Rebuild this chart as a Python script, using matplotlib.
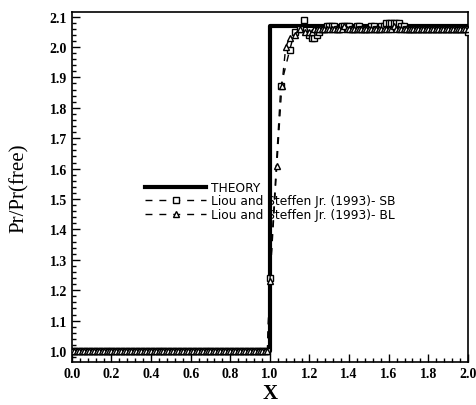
import matplotlib
matplotlib.use("Agg")
import matplotlib.pyplot as plt
from matplotlib.ticker import AutoMinorLocator, MultipleLocator

# theory: step at X = 1
x_theory = [0.0, 1.0, 1.0, 2.0]
y_theory = [1.0, 1.0, 2.07, 2.07]

# upstream grid points (both data sets sit on 1.0 here)
x_up = [0.0, 0.0125, 0.025, 0.0375, 0.05, 0.0625, 0.075, 0.0875,
        0.1, 0.1125, 0.125, 0.1375, 0.15, 0.1625, 0.175, 0.1875,
        0.2, 0.2125, 0.225, 0.2375, 0.25, 0.2625, 0.275, 0.2875,
        0.3, 0.3125, 0.325, 0.3375, 0.35, 0.3625, 0.375, 0.3875,
        0.4, 0.4125, 0.425, 0.4375, 0.45, 0.4625, 0.475, 0.4875,
        0.5, 0.5125, 0.525, 0.5375, 0.55, 0.5625, 0.575, 0.5875,
        0.6, 0.6125, 0.625, 0.6375, 0.65, 0.6625, 0.675, 0.6875,
        0.7, 0.7125, 0.725, 0.7375, 0.75, 0.7625, 0.775, 0.7875,
        0.8, 0.8125, 0.825, 0.8375, 0.85, 0.8625, 0.875, 0.8875,
        0.9, 0.9125, 0.925, 0.9375, 0.95, 0.9625, 0.975, 0.9875]
y_up = [1.0, 1.0, 1.0, 1.0, 1.0, 1.0, 1.0, 1.0, 1.0, 1.0,
        1.0, 1.0, 1.0, 1.0, 1.0, 1.0, 1.0, 1.0, 1.0, 1.0,
        1.0, 1.0, 1.0, 1.0, 1.0, 1.0, 1.0, 1.0, 1.0, 1.0,
        1.0, 1.0, 1.0, 1.0, 1.0, 1.0, 1.0, 1.0, 1.0, 1.0,
        1.0, 1.0, 1.0, 1.0, 1.0, 1.0, 1.0, 1.0, 1.0, 1.0,
        1.0, 1.0, 1.0, 1.0, 1.0, 1.0, 1.0, 1.0, 1.0, 1.0,
        1.0, 1.0, 1.0, 1.0, 1.0, 1.0, 1.0, 1.0, 1.0, 1.0,
        1.0, 1.0, 1.0, 1.0, 1.0, 1.0, 1.0, 1.0, 1.0, 1.0]

# Liou and Steffen Jr. (1993) - SB, across and behind the shock
x_sb = [1.0, 1.055, 1.1, 1.125, 1.15, 1.17, 1.2, 1.2125, 1.225, 1.2375,
        1.25, 1.2625, 1.275, 1.2875, 1.3, 1.3125, 1.325, 1.3375, 1.35, 1.3625,
        1.375, 1.3875, 1.4, 1.4125, 1.425, 1.4375, 1.45, 1.4625, 1.475, 1.4875,
        1.5, 1.5125, 1.525, 1.5375, 1.55, 1.5625, 1.575, 1.5875, 1.6, 1.6125,
        1.625, 1.6375, 1.65, 1.6625, 1.675, 1.6875, 1.7, 1.7125, 1.725, 1.7375,
        1.75, 1.7625, 1.775, 1.7875, 1.8, 1.8125, 1.825, 1.8375, 1.85, 1.8625,
        1.875, 1.8875, 1.9, 1.9125, 1.925, 1.9375, 1.95, 1.9625, 1.975, 1.9875, 2.0]
y_sb = [1.24, 1.87, 1.99, 2.05, 2.06, 2.09, 2.04, 2.03, 2.03, 2.04,
        2.05, 2.06, 2.06, 2.07, 2.07, 2.07, 2.07, 2.06, 2.06, 2.07,
        2.07, 2.07, 2.07, 2.06, 2.06, 2.07, 2.07, 2.06, 2.06, 2.06,
        2.06, 2.07, 2.07, 2.06, 2.06, 2.07, 2.07, 2.08, 2.08, 2.08,
        2.08, 2.08, 2.08, 2.07, 2.07, 2.06, 2.06, 2.06, 2.06, 2.06,
        2.06, 2.06, 2.06, 2.06, 2.06, 2.06, 2.06, 2.06, 2.06, 2.06,
        2.06, 2.06, 2.06, 2.06, 2.06, 2.06, 2.06, 2.06, 2.06, 2.06, 2.05]

# Liou and Steffen Jr. (1993) - BL, across and behind the shock
x_bl = [1.0, 1.035, 1.06, 1.08, 1.1, 1.125, 1.15, 1.175, 1.2, 1.2125,
        1.225, 1.2375, 1.25, 1.2625, 1.275, 1.2875, 1.3, 1.3125, 1.325, 1.3375,
        1.35, 1.3625, 1.375, 1.3875, 1.4, 1.4125, 1.425, 1.4375, 1.45, 1.4625,
        1.475, 1.4875, 1.5, 1.5125, 1.525, 1.5375, 1.55, 1.5625, 1.575, 1.5875,
        1.6, 1.6125, 1.625, 1.6375, 1.65, 1.6625, 1.675, 1.6875, 1.7, 1.7125,
        1.725, 1.7375, 1.75, 1.7625, 1.775, 1.7875, 1.8, 1.8125, 1.825, 1.8375,
        1.85, 1.8625, 1.875, 1.8875, 1.9, 1.9125, 1.925, 1.9375, 1.95, 1.9625,
        1.975, 1.9875, 2.0]
y_bl = [1.23, 1.61, 1.87, 2.0, 2.03, 2.04, 2.06, 2.05, 2.05, 2.05,
        2.06, 2.06, 2.06, 2.06, 2.06, 2.06, 2.06, 2.06, 2.06, 2.06,
        2.06, 2.06, 2.07, 2.06, 2.06, 2.06, 2.06, 2.06, 2.06, 2.06,
        2.06, 2.06, 2.06, 2.06, 2.06, 2.06, 2.06, 2.06, 2.06, 2.06,
        2.06, 2.06, 2.07, 2.06, 2.06, 2.06, 2.06, 2.06, 2.06, 2.06,
        2.06, 2.06, 2.06, 2.06, 2.06, 2.06, 2.06, 2.06, 2.06, 2.06,
        2.06, 2.06, 2.06, 2.06, 2.06, 2.06, 2.06, 2.06, 2.06, 2.06,
        2.06, 2.06, 2.06]

fig = plt.figure(figsize=(4.76, 4.06), dpi=100)
ax = fig.add_axes([0.151, 0.106, 0.832, 0.862])

ax.plot(x_theory, y_theory, color="black", lw=3, label="THEORY", zorder=3)
ax.plot(x_up + x_sb, y_up + y_sb, color="black", lw=1, ls=(0, (5, 5)),
        marker="s", ms=5, mfc="white", mec="black", mew=1.0,
        label="Liou and Steffen Jr. (1993)- SB", zorder=4)
ax.plot(x_up + x_bl, y_up + y_bl, color="black", lw=1, ls=(0, (5, 5)),
        marker="^", ms=5, mfc="white", mec="black", mew=1.0,
        label="Liou and Steffen Jr. (1993)- BL", zorder=4)

ax.set_xlim(0.0, 2.0)
ax.set_ylim(0.964, 2.115)
ax.xaxis.set_major_locator(MultipleLocator(0.2))
ax.yaxis.set_major_locator(MultipleLocator(0.1))
ax.xaxis.set_minor_locator(AutoMinorLocator(5))
ax.yaxis.set_minor_locator(AutoMinorLocator(5))
ax.tick_params(which="both", direction="in", top=False, right=False,
               width=1, color="black")
ax.tick_params(which="major", length=6)
ax.tick_params(which="minor", length=3)
ax.set_xticklabels([f"{v:.1f}" for v in ax.get_xticks()])
ax.set_yticklabels([f"{v:.1f}" for v in ax.get_yticks()])
for lab in ax.get_xticklabels() + ax.get_yticklabels():
    lab.set_fontfamily("Liberation Serif")
    lab.set_fontweight("bold")
    lab.set_fontsize(10)
for s in ax.spines.values():
    s.set_linewidth(1.2)

ax.set_xlabel("X", fontfamily="Liberation Serif", fontweight="bold",
              fontsize=15, labelpad=2)
ax.set_ylabel("Pr/Pr(free)", fontfamily="Liberation Serif", fontsize=15,
              labelpad=15)

leg = ax.legend(loc="upper left", bbox_to_anchor=(0.17, 0.535), frameon=False,
                prop={"family": "DejaVu Sans", "size": 8.8},
                handlelength=5.0, handletextpad=0.4, labelspacing=0.05,
                borderpad=0.0)
leg.set_zorder(2)

fig.savefig("out.png", dpi=100)
